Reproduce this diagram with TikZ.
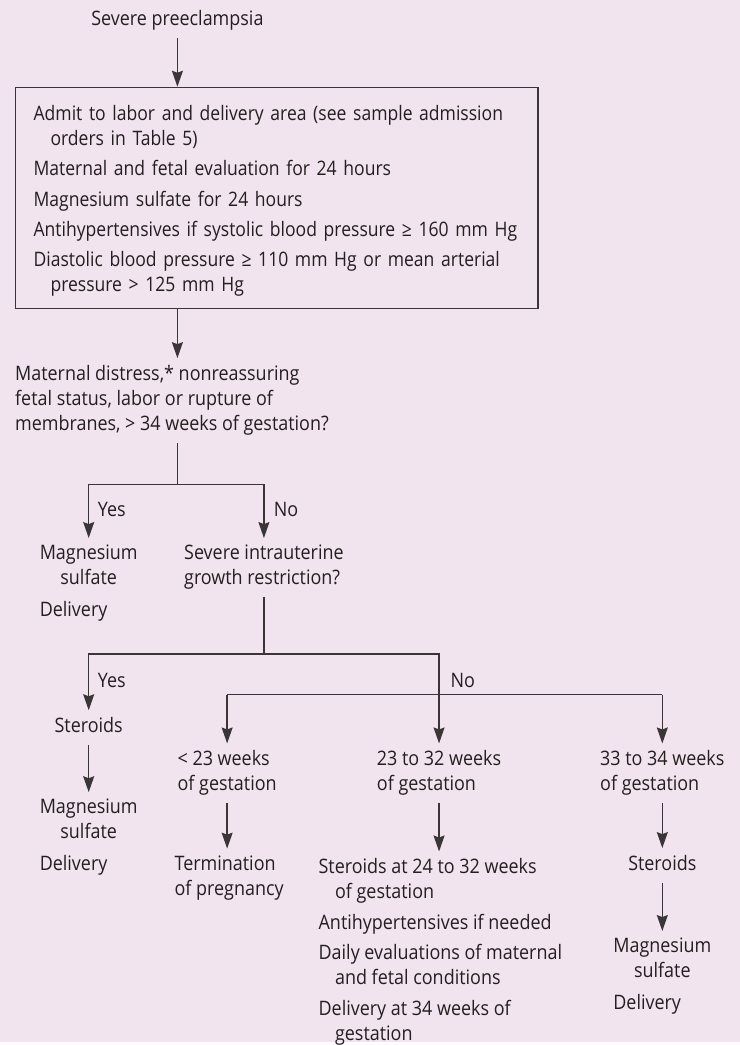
\documentclass[tikz,border=0pt]{standalone}
\usepackage{fontspec}
\setmainfont[FakeStretch=0.9]{Open Sans}
\usetikzlibrary{arrows.meta,calc}
\definecolor{bg}{HTML}{F2E4EE}
\definecolor{ink}{HTML}{231F20}
\definecolor{wire}{HTML}{3A3537}

\begin{document}
\begin{tikzpicture}[x=1pt,y=-1pt,>={Stealth[length=16pt,width=11pt,inset=2pt]},
  lbl/.style={inner sep=0pt,anchor=base west,align=left,text=ink,text depth=5pt,
    font=\fontsize{20}{25}\selectfont},
  ctr/.style={lbl,anchor=base,align=center},
  care/.style={inner sep=0pt,anchor=north west,draw=wire,line width=1.4pt,text=ink,
    inner xsep=18pt,text width=488pt,minimum height=222pt,align=left,
    font=\fontsize{20}{25}\selectfont\addfontfeature{FakeStretch=0.88}},
  link/.style={wire,line width=1.4pt,shorten <=7pt},
  flow/.style={link,->,shorten >=7pt}]
\fill[bg] (0,0) rectangle (742,1045);
% top of the chart
\node[ctr] (start) at (178,26) {Severe preeclampsia};
\node[care] (admit) at (15,87) {\rule{0pt}{21pt}Admit to labor and delivery area (see sample admission\\
  \hspace*{17pt}orders in Table 5)\\[5.3pt]
  Maternal and fetal evaluation for 24 hours\\[5.3pt]
  Magnesium sulfate for 24 hours\\[5.3pt]
  Antihypertensives if systolic blood pressure ≥ 160 mm Hg\\[5.3pt]
  Diastolic blood pressure ≥ 110 mm Hg or mean arterial\\
  \hspace*{17pt}pressure > 125 mm Hg};
\node[lbl] (quest) at (15,431.7) {Maternal distress,* nonreassuring\\fetal status, labor or rupture of\\membranes, > 34 weeks of gestation?};
\draw[flow,shorten >=0pt] (start.south) -- (start.south |- admit.north);
\draw[flow,shorten <=0pt] (start.south |- admit.south) -- (start.south |- quest.north);
% first split
\node[lbl] (yes1) at (98,518) {Yes};
\node[lbl] (no1) at (274.5,518) {No};
\node[ctr] (mgA) at (89,586.7) {Magnesium\\sulfate};
\node[lbl] (delA) at (mgA.west |- 0,618.3) {Delivery};
\node[lbl] (iugr) at (184.6,586.7) {Severe intrauterine\\growth restriction?};
\coordinate (j1) at (start.south |- 0,486);
\draw[link,shorten <=8pt] (start.south |- quest.south) -- (j1);
\draw[flow,shorten <=0pt] (j1) -| (mgA.north);
\draw[flow,shorten <=0pt] (j1) -| (iugr.north);
% second split
\node[lbl] (yes2) at (98,689.3) {Yes};
\node[lbl] (no2) at (452,689.3) {No};
\node[ctr] (sterA) at (89,735) {Steroids};
\node[ctr] (mgB) at (89,841.7) {Magnesium\\sulfate};
\node[lbl] (delB) at (mgB.west |- 0,873.3) {Delivery};
\node[lbl] (lo) at (178,793.3) {< 23 weeks\\of gestation};
\node[lbl] (mid) at (378,793.3) {23 to 32 weeks\\of gestation};
\node[lbl] (hi) at (602,793.3) {33 to 34 weeks\\of gestation};
\coordinate (j2) at (iugr.south |- 0,656);
\coordinate (bar) at (0,697);
\draw[link] (iugr.south) -- (j2);
\draw[flow,shorten <=0pt] (j2) -| (sterA.north);
\draw[flow,shorten <=0pt] (j2) -| (mid.north);
\draw[link,shorten <=0pt] (lo.north |- bar) -- (hi.north |- bar);
\draw[flow,shorten <=0pt] (lo.north |- bar) -- (lo.north);
\draw[flow,shorten <=0pt] (hi.north |- bar) -- (hi.north);
\draw[flow] (sterA.south) -- (mgB.north);
% gestation branches
\node[lbl] (term) at (175,898.3) {Termination\\of pregnancy};
\node[lbl] (plan) at (319.5,1043.5) {Steroids at 24 to 32 weeks\\
  \hspace*{16.5pt}of gestation\\[5.6pt]
  Antihypertensives if needed\\[5.6pt]
  Daily evaluations of maternal\\
  \hspace*{16.5pt}and fetal conditions\\[5.6pt]
  Delivery at 34 weeks of\\
  \hspace*{16.5pt}gestation};
\node[ctr] (sterB) at (hi.south |- 0,873.3) {Steroids};
\node[ctr] (mgC) at (hi.south |- 0,981) {Magnesium\\sulfate};
\node[lbl] (delC) at (mgC.west |- 0,1012.7) {Delivery};
\draw[flow] (lo.south) -- (lo.south |- term.north);
\draw[flow] (mid.south) -- (mid.south |- plan.north);
\draw[flow] (hi.south) -- (sterB.north);
\draw[flow] (sterB.south) -- (mgC.north);
\end{tikzpicture}
\end{document}
